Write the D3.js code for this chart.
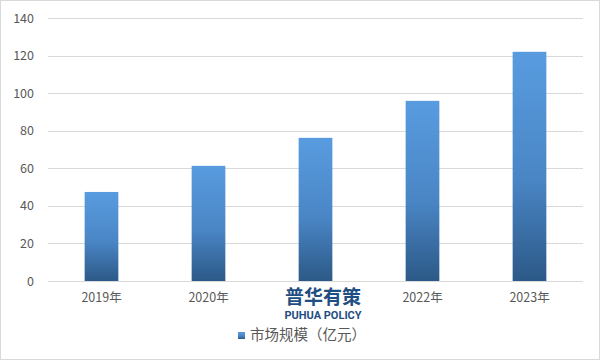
<!DOCTYPE html>
<html>
<head>
<meta charset="utf-8">
<script src="https://cdn.jsdelivr.net/npm/d3@7"></script>
<style>
  body { margin: 0; background: #fff; }
  text { font-family: "Microsoft YaHei", "Noto Sans CJK SC", sans-serif; }
</style>
</head>
<body>
<script>
// data
let years = ["2019年", "2020年", "2021年", "2022年", "2023年"];
let marketSize = [47.4, 61.3, 76.2, 95.9, 122];
let yTicks = [0, 20, 40, 60, 80, 100, 120, 140];
let seriesName = "市场规模（亿元）";

let W = 601, H = 361;
let margin = {top: 18, right: 18, bottom: 80, left: 48};
let width = W - margin.left - margin.right;
let height = H - margin.top - margin.bottom;

let svg = d3.select("body").append("svg")
    .attr("width", W)
    .attr("height", H);

// gradient for bars
let defs = svg.append("defs");
let grad = defs.append("linearGradient")
    .attr("id", "barGrad")
    .attr("x1", 0).attr("y1", 0).attr("x2", 0).attr("y2", 1);
grad.append("stop").attr("offset", "0%").attr("stop-color", "#589cdf");
grad.append("stop").attr("offset", "55%").attr("stop-color", "#4a86c6");
grad.append("stop").attr("offset", "100%").attr("stop-color", "#2c5987");

// outer border
svg.append("rect")
    .attr("x", 0.5).attr("y", 0.5)
    .attr("width", W - 2).attr("height", H - 2)
    .attr("fill", "#fff")
    .attr("stroke", "#d9d9d9");

let g = svg.append("g")
    .attr("transform", "translate(" + margin.left + "," + margin.top + ")");

let x = d3.scaleBand().domain(years).range([0, width]).paddingInner(0.685).paddingOuter(0.3425);
let y = d3.scaleLinear().domain([0, 140]).range([height, 0]);

// gridlines
g.selectAll(".grid")
    .data(yTicks)
    .enter().append("line")
    .attr("x1", 0).attr("x2", width)
    .attr("y1", d => Math.round(y(d)) + 0.5)
    .attr("y2", d => Math.round(y(d)) + 0.5)
    .attr("stroke", "#d9d9d9");

// y axis labels
let yAxis = d3.axisLeft(y).tickValues(yTicks).tickSize(0).tickPadding(14);
g.append("g").call(yAxis)
    .call(s => s.select(".domain").remove())
    .selectAll("text")
    .attr("fill", "#595959")
    .style("font-size", "12.5px");

// bars
g.selectAll(".bar")
    .data(marketSize)
    .enter().append("rect")
    .attr("x", (d, i) => x(years[i]))
    .attr("y", d => y(d))
    .attr("width", x.bandwidth())
    .attr("height", d => y(0) - y(d))
    .attr("fill", "url(#barGrad)");

// x axis labels
let xAxis = d3.axisBottom(x).tickSize(0).tickPadding(12);
g.append("g")
    .attr("transform", "translate(0," + height + ")")
    .call(xAxis)
    .call(s => s.select(".domain").remove())
    .selectAll("text")
    .attr("fill", "#595959")
    .style("font-size", "12.5px");

// watermark (sits on a white patch, covering the 2021 label like the original)
svg.append("rect")
    .attr("x", 281).attr("y", 284)
    .attr("width", 84).attr("height", 38)
    .attr("fill", "#fff");
svg.append("text")
    .attr("x", 323).attr("y", 304)
    .attr("text-anchor", "middle")
    .attr("fill", "#1f4e82")
    .style("font-size", "19px")
    .style("font-weight", "bold")
    .text("普华有策");
svg.append("text")
    .attr("x", 323).attr("y", 319)
    .attr("text-anchor", "middle")
    .attr("fill", "#1f4e82")
    .style("font-size", "11px")
    .style("font-weight", "bold")
    .style("font-family", "Roboto, sans-serif")
    .text("PUHUA POLICY");

// legend
svg.append("rect")
    .attr("x", 238).attr("y", 332)
    .attr("width", 7).attr("height", 7)
    .attr("fill", "url(#barGrad)");
svg.append("text")
    .attr("x", 250).attr("y", 340)
    .attr("fill", "#595959")
    .style("font-size", "14.5px")
    .text(seriesName);
</script>
</body>
</html>
